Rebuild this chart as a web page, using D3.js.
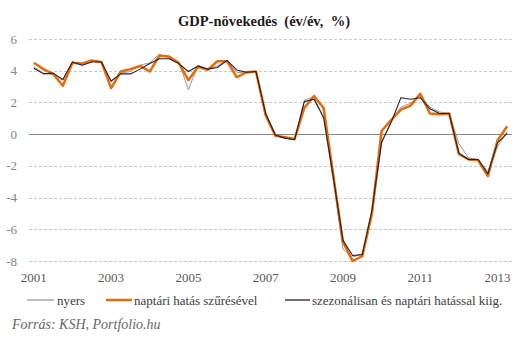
<!DOCTYPE html>
<html>
<head>
<meta charset="utf-8">
<script src="https://cdn.jsdelivr.net/npm/d3@7"></script>
<style>
  body { margin: 0; background: #fff; }
  text { font-family: "Liberation Serif", "DejaVu Serif", serif; }
</style>
</head>
<body>
<svg id="chart" width="531" height="342"></svg>
<script>
// quarters 2001 Q1 .. 2013 Q2
const quarters = d3.range(50).map(i => `${2001 + Math.floor(i / 4)}Q${i % 4 + 1}`);

// nyers
const raw = [4.25, 3.85, 3.75, 3.4, 4.55, 4.4, 4.6, 4.55, 3.3, 3.85,
  3.95, 4.35, 4.5, 5.05, 4.8, 4.55, 2.8, 4.35, 4.1, 4.3,
  4.65, 3.9, 3.85, 3.9, 1.1, -0.1, -0.25, -0.35, 2.15, 2.35,
  1.0, -2.9, -7.25, -7.75, -7.55, -5.2, -0.6, 0.85, 1.7, 1.95,
  2.45, 1.7, 1.4, 1.3, -0.6, -1.5, -1.6, -2.35, -0.8, 0.15];

// naptári hatás szűrésével
const calAdj = [4.5, 4.1, 3.8, 3.05, 4.5, 4.45, 4.65, 4.55, 2.9, 3.95,
  4.1, 4.3, 3.95, 4.95, 4.9, 4.5, 3.4, 4.25, 4.05, 4.6,
  4.6, 3.6, 3.9, 3.95, 1.2, -0.1, -0.2, -0.3, 1.65, 2.4,
  1.65, -2.6, -6.8, -8.0, -7.7, -5.0, 0.2, 0.9, 1.55, 1.8,
  2.55, 1.3, 1.25, 1.3, -1.25, -1.6, -1.65, -2.65, -0.4, 0.5];

// szezonálisan és naptári hatással kiig.
const seasAdj = [4.15, 3.8, 3.85, 3.45, 4.55, 4.35, 4.55, 4.55, 3.35, 3.8,
  3.8, 4.1, 4.45, 4.75, 4.75, 4.45, 3.95, 4.3, 4.1, 4.2,
  4.65, 4.05, 3.9, 3.95, 1.3, -0.05, -0.25, -0.35, 2.05, 2.2,
  1.05, -2.7, -6.7, -7.65, -7.6, -4.8, -0.5, 0.75, 2.3, 2.2,
  2.3, 1.6, 1.3, 1.3, -1.2, -1.6, -1.6, -2.5, -0.55, 0.05];

const yTicks = [6, 4, 2, 0, -2, -4, -6, -8];
const yearLabels = ["2001", "2003", "2005", "2007", "2009", "2011", "2013"];

const series = [
  { name: "nyers", values: raw, color: "#9a9a9a", width: 1 },
  { name: "naptári hatás szűrésével", values: calAdj, color: "#e46c0a", width: 2.5 },
  { name: "szezonálisan és naptári hatással kiig.", values: seasAdj, color: "#2b1d24", width: 1.1 }
];

const svg = d3.select("#chart");

const x = d3.scalePoint()
  .domain(quarters)
  .range([29, 512])
  .padding(0.5);

const y = d3.scaleLinear()
  .domain([-8, 6])
  .range([261, 39]);

// title
svg.append("text")
  .attr("x", 264)
  .attr("y", 26)
  .attr("text-anchor", "middle")
  .attr("font-size", 14.5)
  .attr("font-weight", "bold")
  .attr("fill", "#1f1a1c")
  .style("white-space", "pre")
  .text("GDP-növekedés  (év/év,  %)");

// gridlines
svg.append("g")
  .selectAll("line")
  .data(yTicks.filter(d => d !== 0))
  .join("line")
  .attr("x1", 29).attr("x2", 512)
  .attr("y1", d => Math.round(y(d)) + 0.5)
  .attr("y2", d => Math.round(y(d)) + 0.5)
  .attr("stroke", "#c8c8c8")
  .attr("stroke-dasharray", "3,2");

// zero line
svg.append("line")
  .attr("x1", 29).attr("x2", 512)
  .attr("y1", Math.round(y(0)) + 0.5)
  .attr("y2", Math.round(y(0)) + 0.5)
  .attr("stroke", "#868686")
  .attr("stroke-width", 1.2);

// y labels
svg.append("g")
  .selectAll("text")
  .data(yTicks)
  .join("text")
  .attr("x", 17)
  .attr("y", d => y(d) + 4.5)
  .attr("text-anchor", "end")
  .attr("font-size", 13)
  .attr("fill", "#7c8696")
  .text(d => d);

// x labels
svg.append("g")
  .selectAll("text")
  .data(yearLabels)
  .join("text")
  .attr("x", d => x(d + "Q1"))
  .attr("y", 282)
  .attr("text-anchor", "middle")
  .attr("font-size", 13)
  .attr("fill", "#595959")
  .text(d => d);

// lines
const line = d3.line()
  .x((d, i) => x(quarters[i]))
  .y(d => y(d));

svg.append("g")
  .selectAll("path")
  .data(series)
  .join("path")
  .attr("d", d => line(d.values))
  .attr("fill", "none")
  .attr("stroke", d => d.color)
  .attr("stroke-width", d => d.width)
  .attr("stroke-linejoin", "round");

// legend
const legendPos = [
  { x1: 27, x2: 54, tx: 57 },
  { x1: 106, x2: 132, tx: 134 },
  { x1: 285, x2: 310, tx: 312 }
];
const legend = svg.append("g")
  .selectAll("g")
  .data(series)
  .join("g");

legend.append("line")
  .attr("x1", (d, i) => legendPos[i].x1)
  .attr("x2", (d, i) => legendPos[i].x2)
  .attr("y1", 300).attr("y2", 300)
  .attr("stroke", d => d.color)
  .attr("stroke-width", d => d.width === 2.5 ? 2.5 : 1.3);

legend.append("text")
  .attr("x", (d, i) => legendPos[i].tx)
  .attr("y", 304.5)
  .attr("font-size", 13)
  .attr("fill", "#404040")
  .text(d => d.name);

// source
svg.append("text")
  .attr("x", 12)
  .attr("y", 329)
  .attr("font-size", 14)
  .attr("font-style", "italic")
  .attr("fill", "#666")
  .text("Forrás: KSH, Portfolio.hu");
</script>
</body>
</html>
